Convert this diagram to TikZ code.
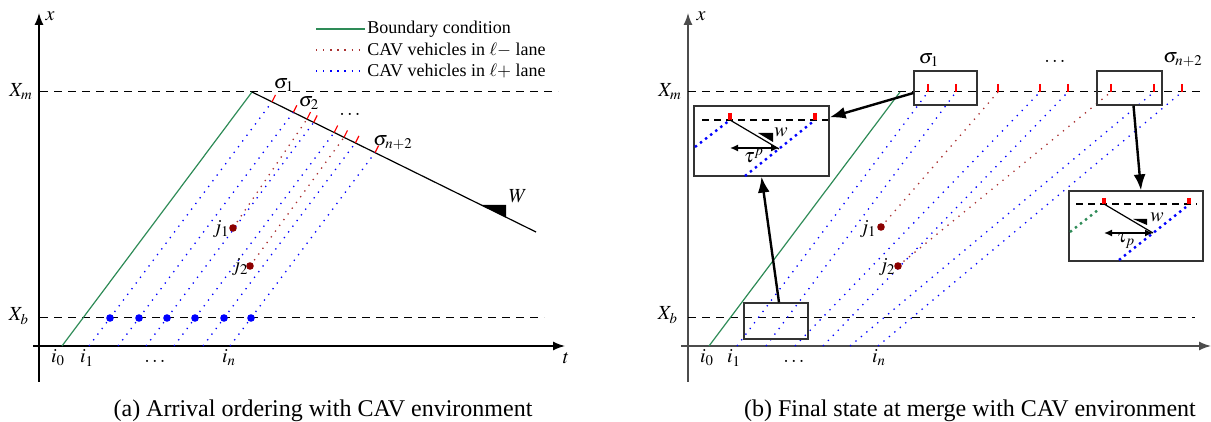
\documentclass[tikz,border=0pt]{standalone}
\usepackage{mathptmx}
\usepackage[no-math]{fontspec}
\setmainfont{Liberation Serif}
\usepackage{tikz}
\usetikzlibrary{arrows.meta,positioning,fit,calc}
\definecolor{bgreen}{RGB}{46,139,87}
\definecolor{lred}{RGB}{170,50,50}
\definecolor{dred}{RGB}{140,0,0}

\begin{document}
\begin{tikzpicture}[x=0.5pt, y=-0.5pt,
    axis/.style={line width=0.7pt, -{Latex[length=6pt,width=4.5pt]}},
    gray_axis/.style={axis, draw=black!70},
    level/.style={line width=0.5pt, dash pattern=on 4pt off 3pt},
    boundary/.style={bgreen, line width=0.6pt},
    minus_lane/.style={lred, line width=0.65pt, dash pattern=on 0.65pt off 2.9pt},
    plus_lane/.style={blue, line width=0.65pt, dash pattern=on 0.65pt off 2.9pt},
    wave/.style={line width=0.6pt},
    ord_tick/.style={red, line width=0.6pt},
    car/.style={circle, fill=blue, inner sep=0pt, minimum size=3.8pt},
    jcar/.style={circle, fill=dred, inner sep=0pt, minimum size=3.8pt},
    zoombox/.style={draw=black!80, line width=0.6pt, inner sep=0pt},
    zoomarrow/.style={line width=1.2pt, -{Latex[length=8pt,width=6pt]}},
    zoom_level/.style={line width=1pt, dash pattern=on 3.5pt off 2.5pt},
    zoom_tick/.style={red, line width=1.6pt},
    zoom_plus/.style={blue, line width=1.2pt, dash pattern=on 1.2pt off 2pt},
    zoom_green/.style={bgreen, line width=1.2pt, dash pattern=on 1.2pt off 2pt},
    slope/.style={fill=black},
    order_label/.style={inner sep=0.5pt},
    legend_text/.style={anchor=west, inner sep=1pt, font=\small},
    caption/.style={font=\fontsize{12}{14}\selectfont}
  ]
  \useasboundingbox (0,0) rectangle (1211,422);

  % ===== (a) Arrival ordering =====
  % --- Axes ---
  \coordinate (La_bot) at (39,382);
  \coordinate (La_top) at (39,13);
  \coordinate (La_left) at (33,346);
  \coordinate (La_right) at (565,346);
  \draw[axis] (La_bot) -- (La_top);
  \draw[axis] (La_left) -- (La_right);
  \node (La_x) at (50,16) {$x$};
  \node (La_t) at (566,358) {$t$};

  % --- Merge and boundary levels ---
  \draw[level] (40,92) -- (558,92);
  \draw[level] (40,318) -- (544,318);
  \node (La_Xm) at (21,92) {$X_m$};
  \node (La_Xb) at (19,316) {$X_b$};

  % --- Boundary condition and backward wave ---
  \coordinate (La_g0) at (62,346);
  \coordinate (La_m) at (252,92);
  \coordinate (La_w) at (536,232);
  \draw[boundary] (La_g0) -- (La_m);
  \draw[wave] (La_m) -- (La_w);
  \fill[slope] (481,205) -- (506,205) -- (506,217.2) -- cycle;
  \node (La_W) at (518,196) {$W$};

  % --- Trajectories ---
  \draw[plus_lane] (89,346) -- (272.0,101.9);
  \draw[plus_lane] (118,346) -- (293.3,112.4);
  \draw[plus_lane] (146,346) -- (313.7,122.4);
  \draw[plus_lane] (174,346) -- (334.2,132.5);
  \draw[plus_lane] (203,346) -- (355.4,142.9);
  \draw[plus_lane] (230,346) -- (375.1,152.6);
  \draw[minus_lane] (233,228) -- (307,119.1);
  \draw[minus_lane] (250,266) -- (344,137.4);

  % --- Ordering ticks ---
  \foreach \px/\py in {272.0/101.9, 293.3/112.4, 307/119.1, 313.7/122.4,
                       334.2/132.5, 344/137.4, 355.4/142.9, 375.1/152.6}
    \draw[ord_tick] (\px,\py) -- ++(3.5,-7);

  % --- Vehicles ---
  \node[car] (La_c1) at (110,318) {};
  \node[car] (La_c2) at (139,318) {};
  \node[car] (La_c3) at (167,318) {};
  \node[car] (La_c4) at (195,318) {};
  \node[car] (La_c5) at (224,318) {};
  \node[car] (La_c6) at (251,318) {};
  \node[jcar] (La_j1) at (233,228) {};
  \node[jcar] (La_j2) at (250,266) {};

  % --- Labels ---
  \node (La_j1l) at (221,229) {$j_1$};
  \node (La_j2l) at (240,267) {$j_2$};
  \node (La_i0) at (58,358) {$i_0$};
  \node (La_i1) at (87,358) {$i_1$};
  \node (La_id) at (155,361) {$\dots$};
  \node (La_in) at (229,358) {$i_n$};
  \node[order_label] (La_s1) at (284,85) {$\sigma_1$};
  \node[order_label] (La_s2) at (309,103) {$\sigma_2$};
  \node[order_label] (La_sd) at (350,114) {$\dots$};
  \node[order_label] (La_sn) at (393,143) {$\sigma_{n+2}$};

  % --- Legend ---
  \draw[boundary] (316,29) -- (365,29);
  \draw[minus_lane] (316,50) -- (365,50);
  \draw[plus_lane] (316,71) -- (365,71);
  \node[legend_text] (Lg_1) at (365,29) {Boundary condition};
  \node[legend_text] (Lg_2) at (365,50) {CAV vehicles in $\ell-$ lane};
  \node[legend_text] (Lg_3) at (365,71) {CAV vehicles in $\ell+$ lane};

  \node[caption] (Cap_a) at (323,411) {(a) Arrival ordering with CAV environment};

  % ===== (b) Final state at merge =====
  % --- Axes ---
  \coordinate (Lb_bot) at (688,382);
  \coordinate (Lb_top) at (688,13);
  \coordinate (Lb_left) at (681,346);
  \coordinate (Lb_right) at (1211,346);
  \draw[gray_axis] (Lb_bot) -- (Lb_top);
  \draw[gray_axis] (Lb_left) -- (Lb_right);
  \node (Lb_x) at (701,16) {$x$};

  % --- Levels ---
  \draw[level] (688,92) -- (1205,92);
  \draw[level] (688,318) -- (1195,318);
  \node (Lb_Xm) at (670,92) {$X_m$};
  \node (Lb_Xb) at (668,315) {$X_b$};

  % --- Trajectories ---
  \draw[boundary] (709,346) -- (900,92);
  \draw[plus_lane] (737,346) -- (928,92);
  \draw[plus_lane] (766,346) -- (956,92);
  \draw[plus_lane] (795,346) -- (1040,92);
  \draw[plus_lane] (823,346) -- (1068,92);
  \draw[plus_lane] (850,346) -- (1154,92);
  \draw[plus_lane] (878,346) -- (1182,92);
  \draw[minus_lane] (881,227) -- (998,92);
  \draw[minus_lane] (898,266) -- (1111,92);
  \foreach \px in {928,956,998,1040,1068,1111,1154,1182}
    \draw[ord_tick] (\px,84) -- (\px,92);

  \node[jcar] (Lb_j1) at (881,227) {};
  \node[jcar] (Lb_j2) at (898,266) {};
  \node (Lb_j1l) at (868,229) {$j_1$};
  \node (Lb_j2l) at (887,267) {$j_2$};
  \node (Lb_i0) at (707,358) {$i_0$};
  \node (Lb_i1) at (734,358) {$i_1$};
  \node (Lb_id) at (794,361) {$\dots$};
  \node (Lb_in) at (879,358) {$i_n$};
  \node[order_label] (Lb_s1) at (929,60) {$\sigma_1$};
  \node[order_label] (Lb_sd) at (1055,61) {$\dots$};
  \node[order_label] (Lb_sn) at (1183,60) {$\sigma_{n+2}$};

  % --- Zoom boxes ---
  \node[zoombox, fit={(914,71) (977,105)}] (s1box) {};
  \node[zoombox, fit={(1097,71) (1162,105)}] (s2box) {};
  \node[zoombox, fit={(744,303) (808,339)}] (sbbox) {};
  \node[zoombox, fill=white, fit={(694,106) (829,176)}] (ins1) {};
  \node[zoombox, fill=white, fit={(1069,191) (1203,261)}] (ins2) {};

  % --- Inset: gap at the merge, first vehicle ---
  \draw[zoom_level] (702,120) -- (828,120);
  \draw[zoom_plus] (695,147) -- (730,120);
  \draw[zoom_plus] (745,176) -- (815,120);
  \draw[zoom_tick] (730,113) -- (730,120);
  \draw[zoom_tick] (815,113) -- (815,120);
  \draw[wave] (730,120) -- (779,149);
  \fill[slope] (758,133) -- (773,133) -- (773,142) -- cycle;
  \node (ins1_w) at (781,132) {$w$};
  \draw[line width=0.7pt, {Latex[length=4pt,width=3.5pt]}-{Latex[length=4pt,width=3.5pt]}] (779,148) -- (730,148);
  \node (ins1_tau) at (754,156) {$\tau^{p}$};

  % --- Inset: gap at the merge, last vehicle ---
  \draw[zoom_level] (1076,204) -- (1197,204);
  \draw[zoom_green] (1070,232) -- (1098,210);
  \draw[zoom_plus] (1119,260) -- (1186,207);
  \draw[zoom_tick] (1104,198) -- (1104,204);
  \draw[zoom_tick] (1189,198) -- (1189,204);
  \draw[wave] (1104,204) -- (1153,233);
  \fill[slope] (1133,219) -- (1147,219) -- (1147,225) -- cycle;
  \node (ins2_w) at (1157,217) {$w$};
  \draw[line width=0.7pt, {Latex[length=4pt,width=3.5pt]}-{Latex[length=4pt,width=3.5pt]}] (1153,233) -- (1104,233);
  \node (ins2_tau) at (1126,241) {$\tau_{p}$};

  % --- Zoom connectors ---
  \draw[zoomarrow] ([yshift=-2.5pt]s1box.west) -- ([yshift=-6pt]ins1.north east);
  \draw[zoomarrow] ([xshift=1.5pt]sbbox.north) -- (ins1.south);
  \draw[zoomarrow] ([xshift=2pt]s2box.south) -- ([xshift=2.5pt]ins2.north);

  \node[caption] (Cap_b) at (970,411) {(b) Final state at merge with CAV environment};
\end{tikzpicture}
\end{document}
